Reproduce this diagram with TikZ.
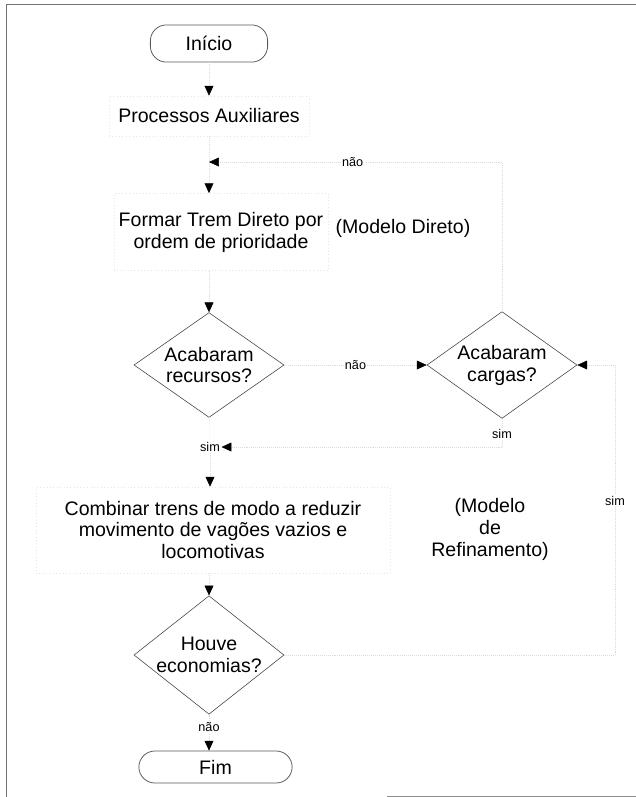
\documentclass[tikz,border=0pt]{standalone}
\usepackage{fontspec}
\setmainfont{Liberation Sans}
\usetikzlibrary{shapes.geometric,arrows.meta}
\newcommand\bigtxt{\fontsize{13.9}{15.6}\selectfont}
\newcommand\smalltxt{\fontsize{9}{10}\selectfont}

\begin{document}
\begin{tikzpicture}[x=0.025cm,y=-0.025cm]
\tikzset{term/.style = {draw=black!65,line width=0.55pt,rounded corners=0.4cm,font=\bigtxt}}
\tikzset{proc/.style = {draw=black!10,dotted,align=center,font=\bigtxt}}
\tikzset{decision/.style = {shape=diamond,draw=black!75,line width=0.4pt,inner sep=-4pt,minimum width=3.75cm,minimum height=2.62cm,align=center,font=\bigtxt}}
\tikzset{note/.style = {align=center,font=\bigtxt}}
\tikzset{lbl/.style = {fill=white,inner sep=1pt,font=\smalltxt}}
\tikzset{flow/.style = {draw=black!14,densely dotted,-{Triangle[length=7pt,width=6.3pt,color=black]}}}
\tikzset{link/.style = {draw=black!14,densely dotted}}
\useasboundingbox (0,0) rectangle (636,797);
% frame of the scanned page
\draw[black!55,line width=0.6pt] (6,797) -- (6,4) -- (636,4);
\draw[black!45,line width=0.6pt] (387,796) -- (636,796);
% start and end
\node[term,minimum width=2.93cm,minimum height=0.93cm] (inicio) at (209,43.5) {Início};
\node[term,minimum width=3.83cm,minimum height=0.8cm] (fim) at (215.5,767) {Fim};
% process boxes
\node[proc,minimum width=5cm,minimum height=1cm] (aux) at (209,116) {Processos Auxiliares};
\node[proc,minimum width=5.2cm,minimum height=1.93cm] (direto) at (221,232) {Formar Trem Direto por\\ordem de prioridade};
\node[proc,minimum width=8.85cm,minimum height=2.15cm] (combinar) at (213,530) {Combinar trens de modo a reduzir\\movimento de vagões vazios e\\locomotivas};
% decisions
\node[decision] (recursos) at (209,365) {Acabaram\\recursos?};
\node[decision] (cargas) at (502,365) {Acabaram\\cargas?};
\node[decision] (houve) at (209,655) {Houve\\economias?};
% model names
\node[note] (mdireto) at (403,228) {(Modelo Direto)};
\node[note] (mrefin) at (490,529) {(Modelo\\de\\Refinamento)};
% bends of the loops
\coordinate (m1) at (209,162);
\coordinate (c1) at (502,162);
\coordinate (c2) at (502,447);
\coordinate (h1) at (615,655);
\coordinate (h2) at (615,365);
\node[lbl] (simA) at (210,447) {sim};
% main line
\draw[flow] (inicio) -- (aux);
\draw[link] (aux) -- (m1);
\draw[flow] (m1) -- (direto.north -| m1);
\draw[flow] (direto.south -| recursos) -- (recursos);
\draw[link] (recursos) -- (simA);
\draw[flow] (simA) -- (combinar.north -| simA);
\draw[flow] (combinar.south -| houve) -- (houve);
\draw[flow] (houve) -- node[lbl,pos=0.35] (naoC) {não} (houve.south |- fim.north);
% refinement loops
\draw[flow] (recursos) -- node[lbl] (naoB) {não} (cargas);
\draw[link] (cargas) -- (c1);
\draw[flow] (c1) -- node[lbl,pos=0.51] (naoA) {não} (m1);
\draw[link] (cargas) -- node[lbl,pos=0.55] (simB) {sim} (c2);
\draw[flow] (c2) -- (simA);
\draw[link] (houve) -- (h1);
\draw[flow] (h1) -- node[lbl,pos=0.53] (simC) {sim} (h2) -- (cargas);
\end{tikzpicture}
\end{document}
